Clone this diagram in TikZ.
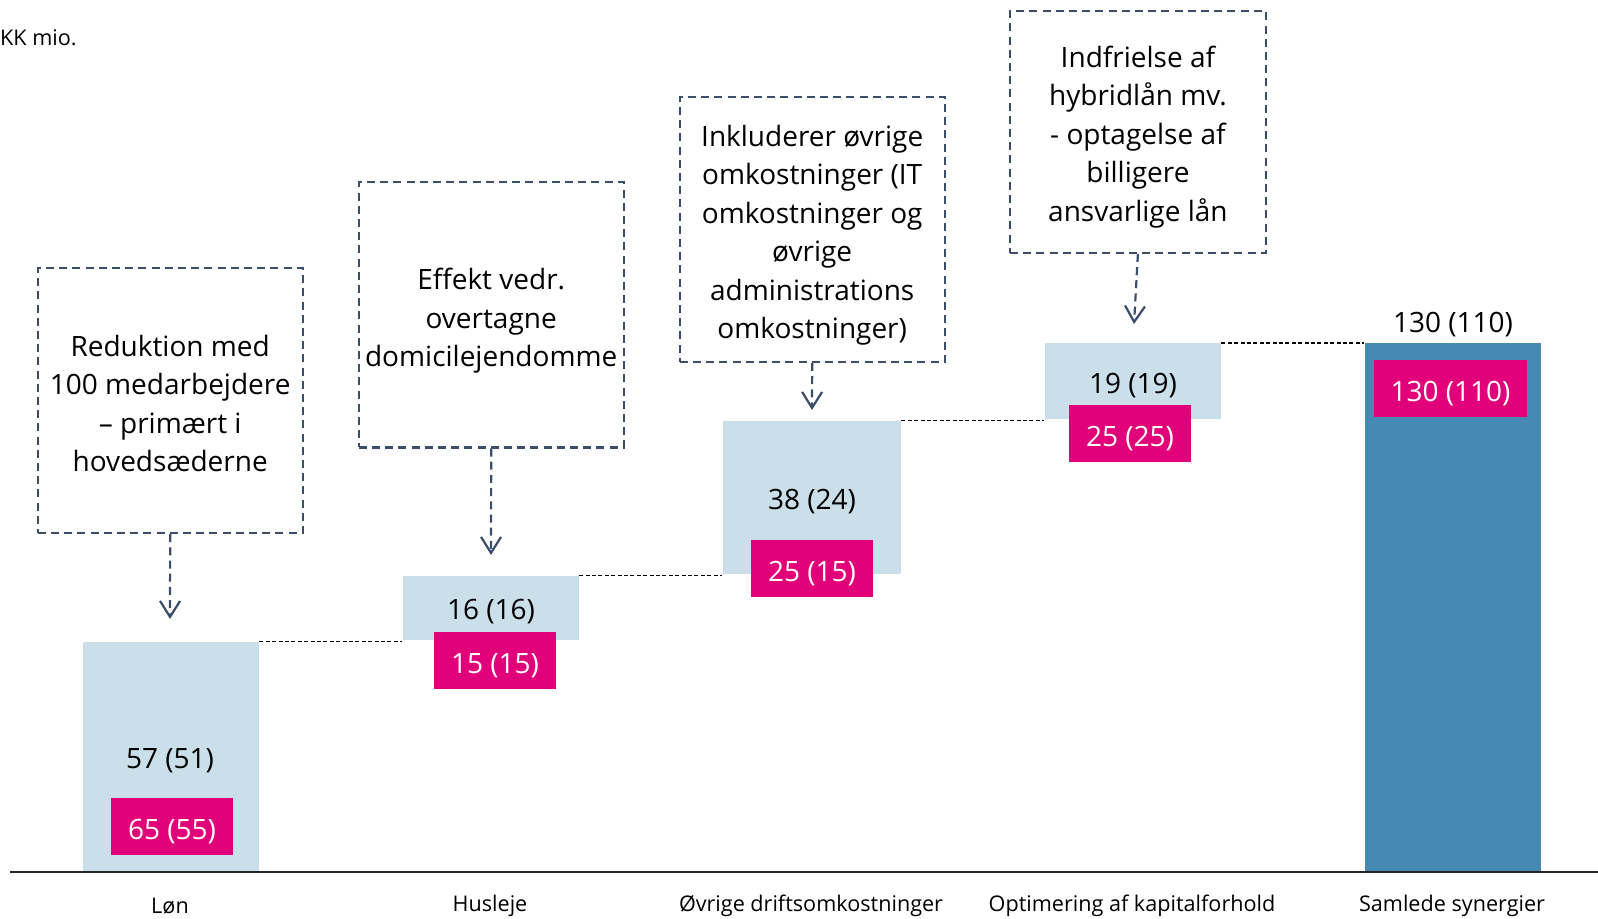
\documentclass[tikz,border=0pt]{standalone}
\usepackage{fontspec}
\setmainfont{Open Sans}
\usetikzlibrary{positioning, arrows.meta, fit}
\definecolor{cBar}{HTML}{CADFEA}
\definecolor{cTotal}{HTML}{468AB3}
\definecolor{cPink}{HTML}{E2007A}
\definecolor{cNote}{HTML}{3A4D6B}

\begin{document}
\begin{tikzpicture}[
      x=0.5pt, y=-0.5pt,
      bar/.style={fill=cBar, inner sep=0pt},
      totbar/.style={fill=cTotal, inner sep=0pt},
      val/.style={inner sep=0pt, text height=13.6pt, font=\fontsize{14}{17}\selectfont},
      pinkbox/.style={fill=cPink, text=white, minimum width=61pt, minimum height=28.5pt, inner sep=0pt, text height=15.6pt, font=\fontsize{14}{17}\selectfont},
      note/.style={draw=cNote, line width=1.1pt, dash pattern=on 4pt off 2.6pt, minimum width=132.5pt, minimum height=132.5pt, align=center, inner sep=2pt, font=\fontsize{14}{19.2}\selectfont},
      notearrow/.style={draw=cNote, line width=1.1pt, dash pattern=on 4pt off 2.6pt, -{Straight Barb[length=8pt, width=10pt]}},
      link/.style={dash pattern=on 2pt off 1.2pt, line width=0.6pt},
      cat/.style={font=\fontsize{10.8}{13}\selectfont}
    ]
      \useasboundingbox (0,0) rectangle (1598,919);
      \node[anchor=base west, inner sep=0pt, cat] (unit) at (-16,46) {DKK mio.};

      % bars
      \node[bar, fit={(82.5,642) (258.9,872)}] (lon) {};
      \node[bar, fit={(402.5,576) (578.8,640)}] (hus) {};
      \node[bar, fit={(722.5,421) (900.9,574)}] (ovr) {};
      \node[bar, fit={(1044.6,343.4) (1220.9,419)}] (opt) {};
      \node[totbar, fit={(1364.6,343.4) (1540.9,872)}] (sam) {};

      \draw[link] (lon.north east) -- (lon.north east -| hus.west);
      \draw[link] (hus.north east) -- (hus.north east -| ovr.west);
      \draw[link] (ovr.north east) -- (ovr.north east -| opt.west);
      \draw[link] (opt.north east) -- (opt.north east -| sam.west);

      \coordinate (axl) at (10,872);
      \coordinate (axr) at (1598,872);
      \draw[line width=1.1pt, black!85] (axl) -- (axr);

      % values
      \node[val] (vlon) at (170,757) {57 (51)};
      \node[val] (vhus) at (491,608) {16 (16)};
      \node[val] (vovr) at (812,498) {38 (24)};
      \node[val] (vopt) at (1133,382) {19 (19)};
      \node[val] (vsam) at (1453,321) {130 (110)};

      \node[pinkbox] (plon) at (172,826.5) {65 (55)};
      \node[pinkbox] (phus) at (495,660.5) {15 (15)};
      \node[pinkbox] (povr) at (812,568.5) {25 (15)};
      \node[pinkbox] (popt) at (1130,433.5) {25 (25)};
      \node[pinkbox, minimum width=76.5pt] (psam) at (1450.5,388.5) {130 (110)};

      % categories
      \node[cat] (clon) at (170,906) {Løn};
      \node[cat] (chus) at (490,906) {Husleje};
      \node[cat] (covr) at (811,906) {Øvrige driftsomkostninger};
      \node[cat] (copt) at (1132,906) {Optimering af kapitalforhold};
      \node[cat] (csam) at (1452,906) {Samlede synergier};

      % notes
      \node[note, text height=71.2pt] (n1) at (170.2,400.5) {Reduktion med\\100 medarbejdere\\– primært i\\hovedsæderne};
      \node[note, text height=55pt] (n2) at (491.2,314.9) {Effekt vedr.\\overtagne\\domicilejendomme};
      \node[note, text height=112.6pt] (n3) at (812.2,229.3) {Inkluderer øvrige\\omkostninger (IT\\omkostninger og\\øvrige\\administrations\\omkostninger)};
      \node[note, text height=92.4pt, minimum width=128pt, minimum height=120.75pt] (n4) at (1137.9,132) {Indfrielse af\\hybridlån mv.\\- optagelse af\\billigere\\ansvarlige lån};

      \coordinate (t1) at (170,619);
      \coordinate (t2) at (491,555);
      \coordinate (t3) at (812,410);
      \coordinate (t4) at (1134,324);
      \draw[notearrow] (n1.south) -- (t1);
      \draw[notearrow] (n2.south) -- (t2);
      \draw[notearrow] (n3.south) -- (t3);
      \draw[notearrow] (n4.south) -- (t4);
    \end{tikzpicture}
\end{document}
